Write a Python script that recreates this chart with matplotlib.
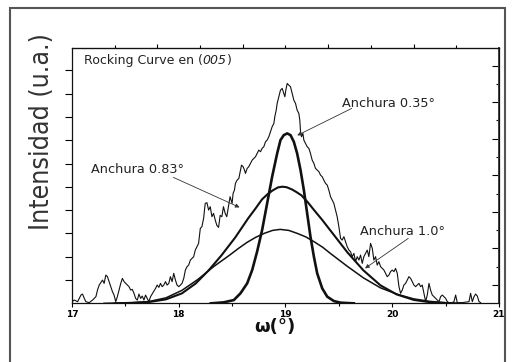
import matplotlib
matplotlib.use('Agg')
import matplotlib.pyplot as plt
import matplotlib.patches as patches
from matplotlib import font_manager
import numpy as np

# measured rocking curve (005), arbitrary intensity
omega = [17.000, 17.022, 17.053, 17.084, 17.099, 17.115, 17.130, 17.161, 17.193, 17.224,
         17.239, 17.255, 17.286, 17.301, 17.317, 17.332, 17.348, 17.363, 17.379, 17.394,
         17.410, 17.425, 17.441, 17.457, 17.472, 17.488, 17.503, 17.519, 17.534, 17.550,
         17.565, 17.581, 17.596, 17.612, 17.627, 17.643, 17.658, 17.674, 17.689, 17.705,
         17.720, 17.736, 17.783, 17.798, 17.814, 17.829, 17.845, 17.860, 17.876, 17.891,
         17.907, 17.922, 17.938, 17.953, 17.969, 17.984, 18.000, 18.016, 18.031, 18.047,
         18.062, 18.078, 18.093, 18.109, 18.124, 18.140, 18.155, 18.171, 18.186, 18.202,
         18.217, 18.233, 18.248, 18.264, 18.280, 18.295, 18.311, 18.326, 18.342, 18.357,
         18.373, 18.388, 18.404, 18.419, 18.435, 18.450, 18.466, 18.481, 18.500, 18.509,
         18.522, 18.531, 18.547, 18.563, 18.578, 18.588, 18.603, 18.616, 18.625, 18.641,
         18.656, 18.672, 18.688, 18.703, 18.719, 18.734, 18.750, 18.766, 18.781, 18.797,
         18.813, 18.828, 18.844, 18.859, 18.875, 18.891, 18.900, 18.913, 18.922, 18.938,
         18.953, 18.969, 18.984, 18.994, 19.003, 19.016, 19.031, 19.047, 19.063, 19.078,
         19.094, 19.109, 19.125, 19.134, 19.141, 19.150, 19.163, 19.172, 19.188, 19.203,
         19.219, 19.234, 19.250, 19.266, 19.281, 19.297, 19.313, 19.328, 19.344, 19.359,
         19.375, 19.391, 19.406, 19.422, 19.438, 19.453, 19.469, 19.484, 19.500, 19.516,
         19.531, 19.547, 19.563, 19.578, 19.594, 19.609, 19.625, 19.641, 19.656, 19.672,
         19.688, 19.703, 19.719, 19.734, 19.750, 19.766, 19.781, 19.797, 19.813, 19.828,
         19.844, 19.859, 19.875, 19.891, 19.906, 19.922, 19.938, 19.953, 19.969, 19.984,
         20.000, 20.016, 20.031, 20.047, 20.063, 20.078, 20.094, 20.109, 20.125, 20.141,
         20.156, 20.172, 20.188, 20.203, 20.219, 20.234, 20.250, 20.266, 20.281, 20.297,
         20.313, 20.328, 20.344, 20.359, 20.375, 20.391, 20.406, 20.422, 20.438, 20.453,
         20.469, 20.484, 20.500, 20.516, 20.531, 20.563, 20.578, 20.594, 20.609, 20.656,
         20.719, 20.734, 20.750, 20.766, 20.781, 20.797, 20.813, 20.828]
intensity = [1.7, 3.3, 1.7, 8.3, 9.3, 5.0, 1.7, 0.7, 3.3, 6.7,
             13.3, 18.3, 23.3, 20.0, 28.3, 26.7, 21.7, 16.7, 11.7, 8.3,
             1.7, 6.7, 13.3, 20.0, 25.0, 21.7, 20.0, 18.3, 16.7, 13.3,
             14.0, 10.0, 5.0, 3.3, 9.3, 5.0, 7.3, 3.3, 8.3, 5.0,
             1.7, 6.7, 15.0, 18.3, 16.0, 20.0, 16.7, 18.3, 21.7, 18.3,
             20.0, 26.7, 21.7, 30.0, 23.3, 18.3, 16.7, 18.3, 20.0, 25.0,
             33.3, 36.7, 38.3, 43.3, 45.0, 46.7, 53.3, 56.7, 60.0, 75.0,
             76.7, 85.0, 100.0, 100.7, 93.3, 96.7, 86.7, 90.0, 83.3, 78.0,
             76.0, 88.0, 86.7, 96.7, 90.0, 86.7, 96.7, 106.7, 100.0, 110.0,
             113.3, 120.0, 123.3, 125.0, 133.3, 138.3, 136.7, 133.3, 130.0, 135.0,
             136.7, 140.0, 143.3, 145.0, 146.7, 150.0, 153.3, 151.7, 155.0, 156.7,
             161.7, 163.3, 166.7, 171.7, 176.7, 180.0, 186.7, 193.3, 200.0, 206.7,
             213.3, 215.0, 210.0, 206.7, 213.3, 220.0, 218.3, 216.7, 210.0, 203.3,
             200.0, 193.3, 190.0, 183.3, 171.7, 166.7, 170.0, 163.3, 160.0, 156.7,
             155.0, 150.0, 143.3, 140.0, 135.0, 133.3, 131.7, 128.3, 126.7, 123.3,
             120.0, 118.3, 113.3, 106.7, 103.3, 100.0, 93.3, 86.7, 76.7, 65.0,
             63.3, 66.7, 61.7, 56.7, 53.3, 51.7, 46.7, 50.0, 41.7, 46.7,
             43.3, 48.3, 40.0, 46.7, 50.0, 53.3, 46.7, 60.0, 55.0, 43.3,
             46.7, 38.3, 41.7, 36.7, 35.0, 33.3, 30.0, 26.7, 28.3, 31.7,
             33.3, 31.7, 35.0, 30.0, 16.7, 10.0, 13.3, 18.3, 20.0, 23.3,
             26.7, 25.0, 21.7, 18.3, 16.7, 18.3, 20.0, 16.7, 18.3, 10.0,
             1.7, 8.3, 20.0, 13.3, 8.3, 6.7, 5.0, 3.3, 1.7, 6.7,
             8.3, 6.7, 5.0, 1.7, 0.7, 0.7, 1.7, 8.3, 0.7, 0.7,
             1.7, 10.0, 1.7, 6.7, 9.3, 7.3, 1.7, 0.7]

# fitted profiles
fit035_x = [18.30, 18.42, 18.516, 18.578, 18.641, 18.688, 18.734, 18.781, 18.828, 18.875,
            18.922, 18.953, 18.984, 19.016, 19.047, 19.078, 19.109, 19.141, 19.172, 19.203,
            19.234, 19.266, 19.297, 19.344, 19.391, 19.453, 19.516, 19.64]
fit035_y = [0.0, 1.0, 3.3, 10.0, 20.0, 33.3, 51.7, 73.3, 100.0, 126.7,
            150.0, 163.3, 168.3, 170.0, 168.3, 161.7, 150.0, 133.3, 113.3, 90.0,
            66.7, 46.7, 30.0, 15.0, 6.7, 2.3, 0.7, 0.0]

fit083_x = [17.40, 17.56, 17.72, 17.88, 18.03, 18.16, 18.28, 18.40, 18.53, 18.65, 18.72,
            18.78, 18.83, 18.88, 18.93, 18.97, 19.01, 19.06, 19.10, 19.15, 19.21,
            19.27, 19.34, 19.42, 19.50, 19.58, 19.73, 19.89, 20.04, 20.20, 20.35, 20.50]
fit083_y = [0.0, 0.3, 1.3, 4.0, 10.0, 20.0, 33.0, 48.0, 66.0, 85.0, 95.0,
            104.0, 109.0, 113.0, 116.0, 116.7, 116.2, 114.0, 111.5, 108.0, 101.0,
            93.0, 84.0, 73.0, 62.0, 51.0, 33.0, 18.0, 9.0, 3.5, 1.2, 0.3]

fit10_x = [17.30, 17.40, 17.56, 17.72, 17.88, 18.03, 18.18, 18.33, 18.48, 18.56, 18.64,
           18.72, 18.80, 18.88, 18.95, 19.03, 19.11, 19.19, 19.27, 19.35, 19.42,
           19.50, 19.58, 19.73, 19.89, 20.05, 20.20, 20.35, 20.50, 20.65]
fit10_y = [0.0, 0.3, 0.8, 1.8, 5.5, 13.0, 24.0, 37.0, 48.5, 55.0, 61.0,
           66.0, 70.0, 73.0, 74.0, 73.0, 70.0, 66.5, 61.5, 56.0, 50.0,
           43.5, 37.0, 25.5, 15.5, 9.0, 4.5, 2.0, 0.7, 0.2]

# narrow face for the y label if the system has one
narrow = [f for f in font_manager.fontManager.ttflist
          if ('Narrow' in f.name or 'Condensed' in f.name
              or f.stretch in ('condensed', 'semi-condensed'))]
if narrow:
    ylab_font = dict(family=narrow[0].name, fontstretch=narrow[0].stretch, fontsize=23)
else:
    ylab_font = dict(family='DejaVu Sans', fontsize=19)

ink = '#111111'
txt = '#222222'

fig = plt.figure(figsize=(5.12, 3.62), dpi=100)
ax = fig.add_axes([0.1406, 0.162, 0.834, 0.705])

ax.plot(omega, intensity, color=ink, lw=0.8)
ax.plot(fit10_x, fit10_y, color=ink, lw=1.1)
ax.plot(fit083_x, fit083_y, color=ink, lw=1.5)
ax.plot(fit035_x, fit035_y, color=ink, lw=1.9)

ax.set_xlim(17, 21)
ax.set_ylim(0, 255.3)

# bottom / left ticks
ax.set_xticks([17, 18, 19, 20, 21])
ax.set_xticks([17.5, 18.5, 19.5, 20.5], minor=True)
ax.set_xticklabels(['17', '18', '19', '20', '21'], fontsize=6.5, fontweight='bold')
ax.tick_params(axis='x', which='major', direction='out', length=3, width=0.8, pad=2)
ax.tick_params(axis='x', which='minor', direction='out', length=2, width=0.8)
ax.set_yticks(23.3 * np.arange(1, 11))
ax.set_yticklabels([])
ax.tick_params(axis='y', direction='out', length=5, width=0.8)

# top and right axes carry their own tick marks
top = ax.secondary_xaxis('top')
top.set_xticks(17 + 0.4 * np.arange(2, 10, 2))
top.set_xticks(17 + 0.4 * np.arange(1, 10, 2), minor=True)
top.set_xticklabels([])
top.tick_params(which='major', direction='out', length=3, width=0.8)
top.tick_params(which='minor', direction='out', length=2, width=0.8)

right = ax.secondary_yaxis('right')
right.set_yticks(18.3 * np.arange(1, 14, 2))
right.set_yticks(18.3 * np.arange(2, 14, 2), minor=True)
right.set_yticklabels([])
right.tick_params(which='major', direction='in', length=5, width=0.8)
right.tick_params(which='minor', direction='in', length=2.5, width=0.8)
right.spines['right'].set_linewidth(1.4)
right.spines['right'].set_color('#444444')

for s in ax.spines.values():
    s.set_linewidth(0.9)
    s.set_color(ink)

# title inside the box, with the reflection in italics
t1 = ax.text(17.11, 243, 'Rocking Curve en (', fontsize=9, color=txt, va='center', ha='left')
t2 = ax.annotate('005', xy=(1, 0), xycoords=t1, va='bottom', ha='left',
                 fontsize=9, color=txt, style='italic')
ax.annotate(')', xy=(1, 0), xycoords=t2, va='bottom', ha='left', fontsize=9, color=txt)

arrow = dict(arrowstyle='-|>', color='#333333', lw=0.6, mutation_scale=6, shrinkA=0, shrinkB=0)
ax.annotate('', xy=(19.11, 168), xytext=(19.62, 195), arrowprops=arrow)
ax.annotate('', xy=(18.57, 96), xytext=(17.95, 126), arrowprops=arrow)
ax.annotate('', xy=(19.745, 35), xytext=(20.15, 65), arrowprops=arrow)
ax.text(19.53, 200, 'Anchura 0.35°', fontsize=9.3, color=txt, va='center', ha='left')
ax.text(17.18, 134, 'Anchura 0.83°', fontsize=9.3, color=txt, va='center', ha='left')
ax.text(19.70, 72, 'Anchura 1.0°', fontsize=9.3, color=txt, va='center', ha='left')

ylab = fig.text(0.082, 0.638, 'Intensidad (u.a.)', rotation=90, ha='center', va='center',
                color='#333333', **ylab_font)
# fit the label to the length it has in the original (about 198 px)
fig.canvas.draw()
span = ylab.get_window_extent().height
ylab.set_fontsize(ylab.get_fontsize() * 198.0 / span)

fig.text(0.537, 0.096, 'ω(°)', ha='center', va='center', fontsize=13,
         fontweight='bold', color=ink)

frame = patches.Rectangle((0.0205, -0.05), 0.966, 1.028, transform=fig.transFigure,
                          fill=False, edgecolor='#555555', lw=1.5)
fig.patches.append(frame)

fig.savefig('out.png', dpi=100)
